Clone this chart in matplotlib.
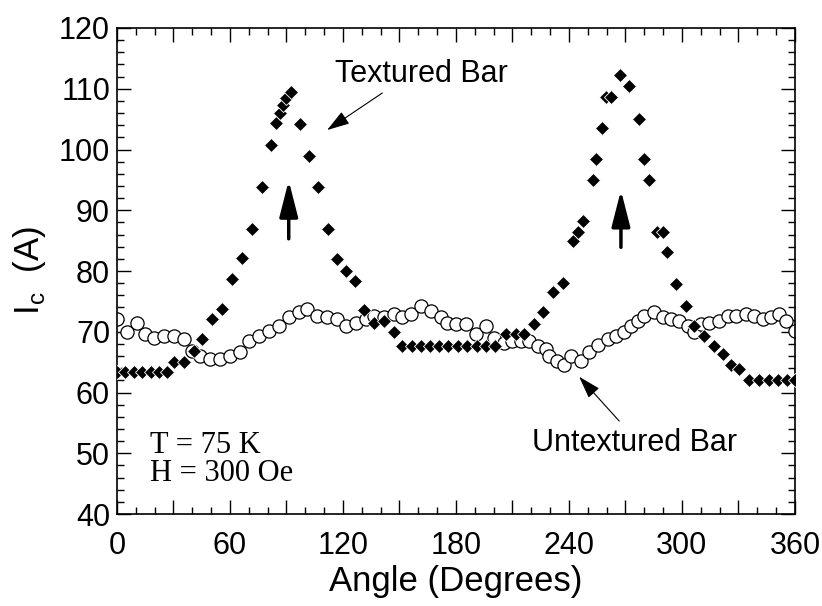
import matplotlib
matplotlib.use("Agg")
import matplotlib.pyplot as plt
from matplotlib.ticker import MultipleLocator, FuncFormatter

# textured bar (filled diamonds)
ang_tex = [0, 4.5, 9, 13.5, 18, 22.5, 26.5, 30.1, 35.4, 40.8, 45.2, 50.6, 55.9,
           61.2, 66.5, 71.5, 76.8, 81.7, 84.6, 86.4, 88.2, 89.9, 92.2, 97.0, 102.0,
           106.8, 111.8, 116.6, 121.5, 126.4, 131.2, 136.6, 141.9, 146.9,
           151.5, 156.5, 161.2, 166.2, 171.0, 176.0, 181.0, 186.0, 191.0, 196.0, 200.5,
           206.4, 211.7, 216.2, 221.5, 226.0, 231.3, 236.6, 241.9, 244.6, 247.2,
           252.5, 254.6, 257.5, 259.6, 262.3, 267.0, 272.0, 277.3, 280.0, 282.3,
           286.7, 289.7, 292.0, 296.8, 302.1, 306.5, 311.8, 317.2, 321.6, 326.0,
           330.5, 335.8, 341.0, 346.0, 351.0, 356.0, 360.0]
ic_tex = [63.4, 63.4, 63.4, 63.4, 63.4, 63.4, 63.4, 65.1, 65.1, 66.8, 68.8, 72.1, 73.7,
          78.7, 82.1, 86.9, 93.9, 100.7, 104.4, 106.0, 107.3, 108.4, 109.5, 104.2, 98.9,
          93.8, 86.9, 82.0, 80.0, 78.4, 73.5, 71.5, 71.8, 69.9,
          67.7, 67.7, 67.7, 67.7, 67.7, 67.7, 67.7, 67.7, 67.7, 67.7, 67.7,
          69.6, 69.6, 69.6, 71.2, 73.2, 76.5, 78.1, 85.0, 86.4, 88.3,
          94.9, 98.5, 103.5, 108.7, 108.7, 112.3, 110.4, 105.1, 98.5, 94.9,
          86.4, 86.4, 83.1, 77.9, 74.3, 71.0, 69.3, 67.6, 66.3, 64.6,
          63.8, 62.1, 62.1, 62.1, 62.1, 62.1, 62.1]

# untextured bar (open circles)
ang_unt = [0, 5.3, 10.6, 15.0, 19.5, 24.8, 30.1, 35.4, 39.9, 44.3, 49.6, 54.9, 60.2,
           65.5, 70.0, 75.3, 80.6, 85.9, 91.2, 96.5, 101.0, 106.3, 111.6, 117.0,
           121.4, 126.7, 132.0, 136.4, 141.7, 147.0, 151.5, 155.9, 161.2, 166.6,
           171.9, 175.4, 179.9, 185.2, 190.5, 195.8, 200.2, 205.5, 210.0, 214.4,
           218.8, 223.3, 227.7, 229.5, 233.9, 237.4, 241.0, 246.3, 250.7, 255.2,
           260.5, 264.9, 269.3, 272.9, 276.5, 280.0, 285.3, 289.7, 294.2, 298.6,
           303.0, 306.5, 310.1, 314.5, 319.8, 324.3, 328.7, 334.0, 338.4, 342.9,
           347.3, 351.7, 355.3, 360.0]
ic_unt = [72.1, 69.9, 71.4, 69.6, 69.0, 69.3, 69.3, 68.8, 66.8, 66.0, 65.5, 65.5, 66.0,
          66.6, 68.5, 69.3, 70.1, 71.0, 72.4, 73.2, 73.7, 72.6, 72.4, 72.1,
          71.0, 71.5, 72.1, 72.6, 72.4, 72.9, 72.4, 72.9, 74.3, 73.4,
          72.4, 71.5, 71.2, 71.2, 69.6, 71.0, 69.0, 68.2, 68.5, 68.5,
          68.5, 67.6, 67.1, 66.0, 65.2, 64.6, 66.0, 65.2, 66.6, 67.9,
          68.8, 69.3, 69.9, 71.0, 71.8, 72.6, 73.2, 72.4, 72.1, 71.8,
          71.0, 69.9, 71.2, 71.5, 71.8, 72.6, 72.6, 72.9, 72.6, 72.1,
          72.4, 72.9, 71.8, 70.1]

plt.rcParams["font.family"] = "Liberation Sans"

fig = plt.figure(figsize=(8.22, 6.06), dpi=100)
ax = fig.add_axes([0.1423, 0.1518, 0.8248, 0.802])

ax.plot(ang_unt, ic_unt, "o", ms=9.5, mfc="white", mec="black", mew=0.9, zorder=2)
ax.plot(ang_tex, ic_tex, "D", ms=7.5, mfc="black", mec="white", mew=0.6, zorder=3)

ax.set_xlim(0, 360)
ax.set_ylim(40, 120)
ax.xaxis.set_major_locator(MultipleLocator(30))
ax.xaxis.set_minor_locator(MultipleLocator(10))
ax.xaxis.set_major_formatter(FuncFormatter(lambda v, p: "%d" % v if v % 60 == 0 else ""))
ax.yaxis.set_major_locator(MultipleLocator(10))
ax.yaxis.set_minor_locator(MultipleLocator(2))
ax.tick_params(which="both", direction="in", top=True, right=True, width=1)
ax.tick_params(which="major", length=10, labelsize=22)
ax.tick_params(which="minor", length=5)
ax.tick_params(axis="x", pad=12)
ax.tick_params(axis="y", pad=5)
for s in ax.spines.values():
    s.set_linewidth(1.2)

ax.set_xlabel("Angle (Degrees)", fontsize=25, labelpad=3)
ax.set_ylabel(r"I$_\mathregular{c}$  (A)", fontsize=25, labelpad=8)

# labels and arrows
ax.text(116, 112.4, "Textured Bar", fontsize=22, va="center")
ax.annotate("", xy=(111.6, 103.2), xytext=(140.9, 109.3),
            arrowprops=dict(arrowstyle="-|>,head_length=0.7,head_width=0.22",
                            mutation_scale=20, lw=0.8, color="black",
                            shrinkA=0, shrinkB=0))
ax.text(274.7, 51.7, "Untextured Bar", fontsize=22, ha="center", va="center")
ax.annotate("", xy=(245.4, 62.6), xytext=(266.7, 55.3),
            arrowprops=dict(arrowstyle="-|>,head_length=0.7,head_width=0.22",
                            mutation_scale=20, lw=0.8, color="black",
                            shrinkA=0, shrinkB=0))
for xa, y0, y1 in [(91.2, 85.3, 94.9), (267.6, 83.9, 93.3)]:
    ax.annotate("", xy=(xa, y1), xytext=(xa, y0),
                arrowprops=dict(arrowstyle="-|>,head_length=1.1,head_width=0.28",
                                mutation_scale=20, lw=2.5, color="black",
                                shrinkA=0, shrinkB=0))

ax.text(17.7, 51.3, "T = 75 K", fontsize=22, family="Liberation Serif", va="center")
ax.text(17.7, 46.7, "H = 300 Oe", fontsize=22, family="Liberation Serif", va="center")

fig.savefig("out.png", dpi=100)
